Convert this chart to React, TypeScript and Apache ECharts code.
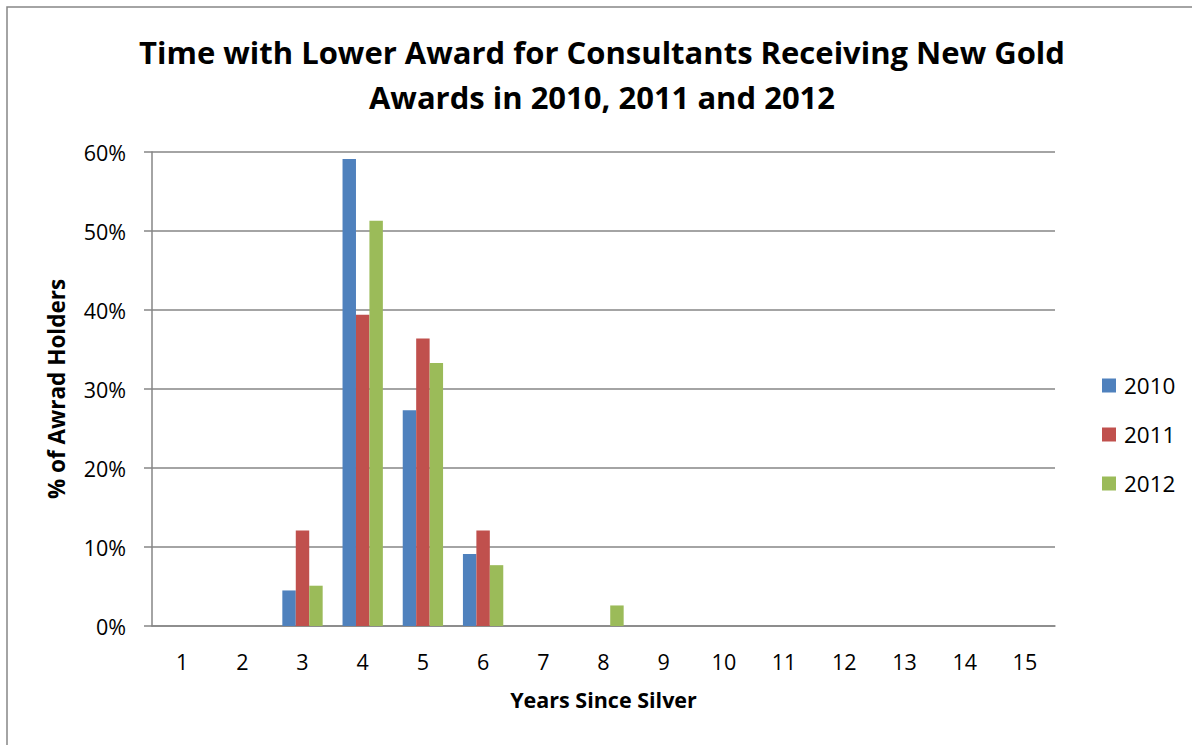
import React, { useEffect, useRef } from "react";
import * as echarts from "echarts";

const titleLines = [
  "Time with Lower Award for Consultants Receiving New Gold",
  "Awards in 2010, 2011 and 2012",
];
const xAxisName = "Years Since Silver";
const yAxisName = "% of Awrad Holders";
const categories = ["1", "2", "3", "4", "5", "6", "7", "8", "9", "10", "11", "12", "13", "14", "15"];
const seriesNames = ["2010", "2011", "2012"];
const values2010 = [0, 0, 4.5, 59.1, 27.3, 9.1, 0, 0, 0, 0, 0, 0, 0, 0, 0];
const values2011 = [0, 0, 12.1, 39.4, 36.4, 12.1, 0, 0, 0, 0, 0, 0, 0, 0, 0];
const values2012 = [0, 0, 5.1, 51.3, 33.3, 7.7, 0, 2.6, 0, 0, 0, 0, 0, 0, 0];
const seriesColors = ["#4F81BD", "#C0504D", "#9BBB59"];

const FONT = "'Open Sans', 'Noto Sans', sans-serif";
const GRAY = "#868686";

export default function App() {
  const ref = useRef<HTMLDivElement>(null);
  useEffect(() => {
    if (!ref.current) return;
    const chart = echarts.init(ref.current, null, { renderer: "svg" });
    const allValues = [values2010, values2011, values2012];
    chart.setOption({
      animation: false,
      backgroundColor: "#ffffff",
      textStyle: { fontFamily: FONT },
      graphic: [
        {
          type: "rect",
          shape: { x: 7, y: 7, width: 1300, height: 900 },
          style: { fill: "none", stroke: GRAY, lineWidth: 1.5 },
          silent: true,
        },
        ...titleLines.map((t, i) => ({
          type: "text",
          x: 602,
          y: 52 + i * 45,
          style: {
            text: t,
            fontFamily: FONT,
            fontSize: 31,
            fontWeight: "bold",
            fill: "#000",
            textAlign: "center",
            textVerticalAlign: "middle",
          },
        })),
      ],
      legend: {
        orient: "vertical",
        left: 1097,
        top: 369,
        itemWidth: 14,
        itemHeight: 14,
        itemGap: 26,
        icon: "rect",
        data: seriesNames,
        textStyle: {
          fontFamily: FONT,
          fontSize: 22.5,
          color: "#000",
          lineHeight: 22,
          padding: [0, 0, 0, 3],
        },
      },
      grid: { left: 152, right: 137, top: 152, bottom: 119, containLabel: false },
      xAxis: {
        type: "category",
        data: categories,
        name: xAxisName,
        nameLocation: "middle",
        nameGap: 62,
        nameTextStyle: { fontFamily: FONT, fontSize: 21.5, fontWeight: "bold", color: "#000" },
        axisLine: { lineStyle: { color: GRAY, width: 1.5 } },
        axisTick: { show: false },
        axisLabel: { fontFamily: FONT, fontSize: 21.5, color: "#000", margin: 24 },
      },
      yAxis: {
        type: "value",
        min: 0,
        max: 60,
        interval: 10,
        name: yAxisName,
        nameLocation: "middle",
        nameGap: 84,
        nameRotate: 90,
        nameTextStyle: { fontFamily: FONT, fontSize: 22.5, fontWeight: "bold", color: "#000" },
        axisLine: { show: true, lineStyle: { color: GRAY, width: 1.5 } },
        axisTick: { show: true, length: 8, lineStyle: { color: GRAY, width: 1.5 } },
        axisLabel: { fontFamily: FONT, fontSize: 21.5, color: "#000", margin: 26, formatter: "{value}%" },
        splitLine: { show: true, lineStyle: { color: GRAY, width: 1.5 } },
      },
      series: seriesNames.map((n, i) => ({
        name: n,
        type: "bar",
        data: allValues[i],
        barGap: "0%",
        barCategoryGap: "33%",
        itemStyle: { color: seriesColors[i] },
      })),
    });
    return () => chart.dispose();
  }, []);
  return (
    <div
      ref={ref}
      style={{ position: "absolute", left: 0, top: 0, width: 1192, height: 745 }}
    />
  );
}
